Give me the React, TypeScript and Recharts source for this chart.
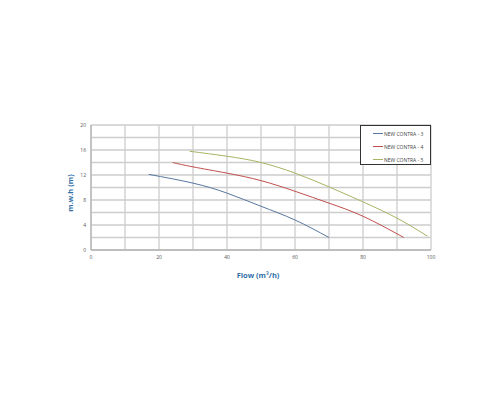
import React from 'react';
import { LineChart, Line, XAxis, YAxis, CartesianGrid, Legend } from 'recharts';

const contra3 = [
  { x: 17, y: 12.1 },
  { x: 30, y: 10.7 },
  { x: 40, y: 9.1 },
  { x: 50, y: 7.0 },
  { x: 60, y: 4.8 },
  { x: 70, y: 2.0 },
];
const contra4 = [
  { x: 24, y: 14.0 },
  { x: 30, y: 13.3 },
  { x: 40, y: 12.3 },
  { x: 50, y: 11.1 },
  { x: 60, y: 9.4 },
  { x: 70, y: 7.5 },
  { x: 80, y: 5.4 },
  { x: 92, y: 2.0 },
];
const contra5 = [
  { x: 29, y: 15.8 },
  { x: 40, y: 15.0 },
  { x: 50, y: 14.0 },
  { x: 60, y: 12.3 },
  { x: 70, y: 10.1 },
  { x: 80, y: 7.7 },
  { x: 90, y: 5.1 },
  { x: 99, y: 2.2 },
];
const xTicks = [0, 10, 20, 30, 40, 50, 60, 70, 80, 90, 100];
const yTicks = [0, 2, 4, 6, 8, 10, 12, 14, 16, 18, 20];

const FONT = '"Open Sans", "Liberation Sans", sans-serif';

const LegendBox = (props: any) => {
  const { payload } = props;
  return (
    <div
      style={{
        width: 71,
        height: 40,
        boxSizing: 'border-box',
        border: '1px solid #333',
        background: '#fff',
        paddingTop: 1,
      }}
    >
      {(payload || []).map((p: any) => (
        <div
          key={p.value}
          style={{ height: 13, display: 'flex', alignItems: 'center' }}
        >
          <div style={{ marginLeft: 12, width: 10, height: 1, background: p.color }} />
          <span
            style={{
              marginLeft: 1,
              fontSize: 5,
              color: '#444',
              fontFamily: FONT,
              whiteSpace: 'nowrap',
            }}
          >
            {p.value}
          </span>
        </div>
      ))}
    </div>
  );
};

export default function App() {
  return (
    <div style={{ position: 'absolute', left: 0, top: 0, width: 500, height: 400, background: '#fff' }}>
      <LineChart
        width={500}
        height={400}
        margin={{ top: 125, right: 69, bottom: 120, left: 61 }}
      >
        <CartesianGrid stroke="#cdcdcd" strokeWidth={1.3} />
        <XAxis
          type="number"
          dataKey="x"
          domain={[0, 100]}
          ticks={xTicks}
          interval={0}
          height={30}
          tickLine={false}
          tickSize={4}
          tickMargin={1}
          axisLine={{ stroke: '#b5b5b5', strokeWidth: 1.3 }}
          tick={{ fontSize: 5, fill: '#555', fontFamily: FONT }}
          tickFormatter={(v: number) => (v % 20 === 0 ? String(v) : '')}
          label={{
            content: (p: any) => {
              const vb = p.viewBox;
              return (
                <text
                  x={vb.x + vb.width / 2 - 3}
                  y={vb.y + 28}
                  textAnchor="middle"
                  fontSize={7.5}
                  fontWeight="bold"
                  fill="#2f6fa8"
                  fontFamily={FONT}
                >
                  Flow (m³/h)
                </text>
              );
            },
          }}
        />
        <YAxis
          type="number"
          domain={[0, 20]}
          ticks={yTicks}
          interval={0}
          width={30}
          tickLine={false}
          tickSize={4}
          tickMargin={1}
          axisLine={{ stroke: '#b5b5b5', strokeWidth: 1.3 }}
          tick={{ fontSize: 5, fill: '#555', fontFamily: FONT }}
          tickFormatter={(v: number) => (v % 4 === 0 ? String(v) : '')}
          label={{
            content: (p: any) => {
              const vb = p.viewBox;
              const cx = vb.x + 9;
              const cy = vb.y + vb.height / 2 + 5.5;
              return (
                <text
                  x={cx}
                  y={cy}
                  transform={`rotate(-90, ${cx}, ${cy})`}
                  textAnchor="middle"
                  dominantBaseline="central"
                  fontSize={7.5}
                  fontWeight="bold"
                  fill="#2f6fa8"
                  fontFamily={FONT}
                >
                  m.w.h (m)
                </text>
              );
            },
          }}
        />
        <Legend
          layout="vertical"
          align="center"
          verticalAlign="middle"
          content={<LegendBox />}
          wrapperStyle={{ position: 'absolute', left: 360, top: 125, width: 71, height: 40 }}
        />
        <Line
          data={contra3}
          dataKey="y"
          name="NEW CONTRA - 3"
          type="natural"
          stroke="#5878a0"
          strokeWidth={1}
          dot={false}
          isAnimationActive={false}
        />
        <Line
          data={contra4}
          dataKey="y"
          name="NEW CONTRA - 4"
          type="natural"
          stroke="#c0504d"
          strokeWidth={1}
          dot={false}
          isAnimationActive={false}
        />
        <Line
          data={contra5}
          dataKey="y"
          name="NEW CONTRA - 5"
          type="natural"
          stroke="#a8b464"
          strokeWidth={1}
          dot={false}
          isAnimationActive={false}
        />
      </LineChart>
    </div>
  );
}
